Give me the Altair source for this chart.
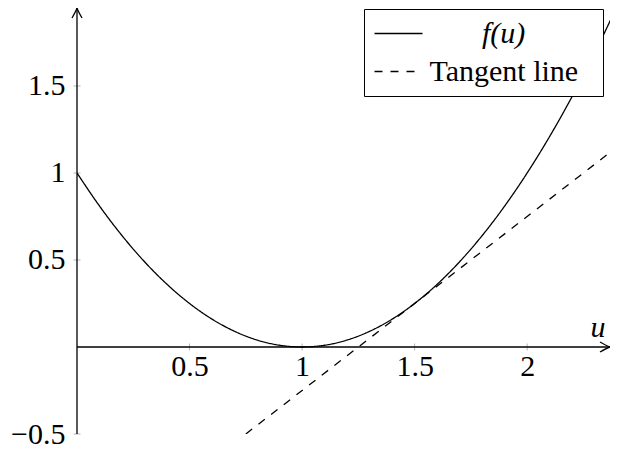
import altair as alt
import pandas as pd

# ---- data ----
u_curve = [0.0, 0.1, 0.2, 0.3, 0.4, 0.5, 0.6, 0.7, 0.8, 0.9, 1.0, 1.1, 1.2,
           1.3, 1.4, 1.5, 1.6, 1.7, 1.8, 1.9, 2.0, 2.1, 2.2, 2.3, 2.4]
f_curve = [1.00, 0.81, 0.64, 0.49, 0.36, 0.25, 0.16, 0.09, 0.04, 0.01, 0.00,
           0.01, 0.04, 0.09, 0.16, 0.25, 0.36, 0.49, 0.64, 0.81, 1.00, 1.21,
           1.44, 1.69, 1.96]
u_tangent = [0.75, 2.4]
f_tangent = [-0.5, 1.15]
# legend names; non-breaking spaces (guarded by zero-width joiners) centre "f(u)"
NB = "\u00a0"
ZJ = "\u200d"
series_names = [ZJ + NB * 7 + "f(u)", "Tangent line" + NB * 2 + ZJ]

x_ticks = [0.5, 1, 1.5, 2]
y_ticks = [-0.5, 0.5, 1, 1.5]
x_domain = [0, 2.368]
y_domain = [-0.5, 1.948]

FONT = "Liberation Serif"

lines = pd.DataFrame({
    "u": u_curve + u_tangent,
    "f": f_curve + f_tangent,
    "series": [series_names[0]] * len(u_curve) + [series_names[1]] * len(u_tangent),
    "order": list(range(len(u_curve))) + list(range(len(u_tangent))),
})

xs = alt.Scale(domain=x_domain, nice=False, zero=False)
ys = alt.Scale(domain=y_domain, nice=False, zero=False)

W, H = 533, 426
y0_offset = -round(H * (0 - y_domain[0]) / (y_domain[1] - y_domain[0]))

x_axis = alt.Axis(values=x_ticks, orient="bottom", offset=y0_offset, domain=False,
                  ticks=False, grid=False, labelPadding=4, title=None,
                  labelFlush=False, labelOverlap=False, format="~g")
y_axis = alt.Axis(values=y_ticks, orient="left", domain=False, ticks=False,
                  grid=False, labelPadding=12, title=None, labelFlush=False,
                  labelOverlap=False, format="~g")

curves = alt.Chart(lines).mark_line(clip=True, strokeWidth=1.3, color="black",
                                    interpolate="monotone").encode(
    x=alt.X("u:Q", scale=xs, axis=x_axis),
    y=alt.Y("f:Q", scale=ys, axis=y_axis),
    detail="series:N",
    order="order:Q",
    strokeDash=alt.StrokeDash(
        "series:N",
        scale=alt.Scale(domain=series_names, range=[[1, 0], [8, 8]]),
        legend=alt.Legend(
            title=None, orient="none", legendX=287, legendY=1,
            padding=9.5, strokeColor="black", fillColor="white",
            cornerRadius=0, symbolType="stroke", symbolSize=2304,
            symbolStrokeWidth=1.3, symbolStrokeColor="black",
            clipHeight=30, rowPadding=8, labelOffset=6,
            labelFont=FONT, labelFontSize=30, labelColor="black",
            labelLimit=400,
            labelFontStyle={"expr": "indexof(datum.label, 'f(u)') >= 0 ? 'italic' : 'normal'"},
        ),
    ),
)

# axis lines
xline = pd.DataFrame({"x1": [x_domain[0]], "x2": [x_domain[1]], "y": [0]})
yline = pd.DataFrame({"x": [0], "y1": [y_domain[0]], "y2": [y_domain[1]]})
xrule = alt.Chart(xline).mark_rule(color="black", strokeWidth=1.3).encode(
    x=alt.X("x1:Q", scale=xs), x2="x2:Q", y=alt.Y("y:Q", scale=ys))
yrule = alt.Chart(yline).mark_rule(color="black", strokeWidth=1.3).encode(
    x=alt.X("x:Q", scale=xs), y=alt.Y("y1:Q", scale=ys), y2="y2:Q")

# arrows at axis ends
xarrow = alt.Chart(pd.DataFrame({"x": [x_domain[1]], "y": [0]})).mark_point(
    shape="M -1 -0.5 Q -0.3 -0.1 0 0 Q -0.3 0.1 -1 0.5", size=400,
    filled=False, color="black", strokeWidth=1.3, opacity=1).encode(
    x=alt.X("x:Q", scale=xs), y=alt.Y("y:Q", scale=ys))
yarrow = alt.Chart(pd.DataFrame({"x": [0], "y": [y_domain[1]]})).mark_point(
    shape="M -0.5 1 Q -0.1 0.3 0 0 Q 0.1 0.3 0.5 1", size=400,
    filled=False, color="black", strokeWidth=1.3, opacity=1).encode(
    x=alt.X("x:Q", scale=xs), y=alt.Y("y:Q", scale=ys))

# tick marks crossing the axes
xt = alt.Chart(pd.DataFrame({"x": x_ticks, "y": [0] * len(x_ticks)})).mark_tick(
    orient="vertical", size=7, thickness=1, color="#b5b5b5", opacity=1).encode(
    x=alt.X("x:Q", scale=xs), y=alt.Y("y:Q", scale=ys))
yt = alt.Chart(pd.DataFrame({"x": [0] * len(y_ticks), "y": y_ticks})).mark_tick(
    orient="horizontal", size=7, thickness=1, color="#b5b5b5", opacity=1).encode(
    x=alt.X("x:Q", scale=xs), y=alt.Y("y:Q", scale=ys))

# axis label "u"
ulabel = alt.Chart(pd.DataFrame({"x": [x_domain[1]], "y": [0], "t": ["u"]})).mark_text(
    font=FONT, fontSize=30, fontStyle="italic", color="black", align="center",
    baseline="alphabetic", dx=-12, dy=-10).encode(
    x=alt.X("x:Q", scale=xs), y=alt.Y("y:Q", scale=ys), text="t:N")

chart = alt.layer(xt, yt, xrule, yrule, xarrow, yarrow, curves, ulabel).properties(
    width=W, height=H,
    autosize=alt.AutoSizeParams(type="none"),
    padding={"left": 69, "top": 0, "right": 0, "bottom": 442 - H},
).configure_axis(
    labelFont=FONT, labelFontSize=30, labelColor="black",
).configure_view(stroke=None)

chart.save("out.html", embed_options={"renderer": "svg", "actions": False})
